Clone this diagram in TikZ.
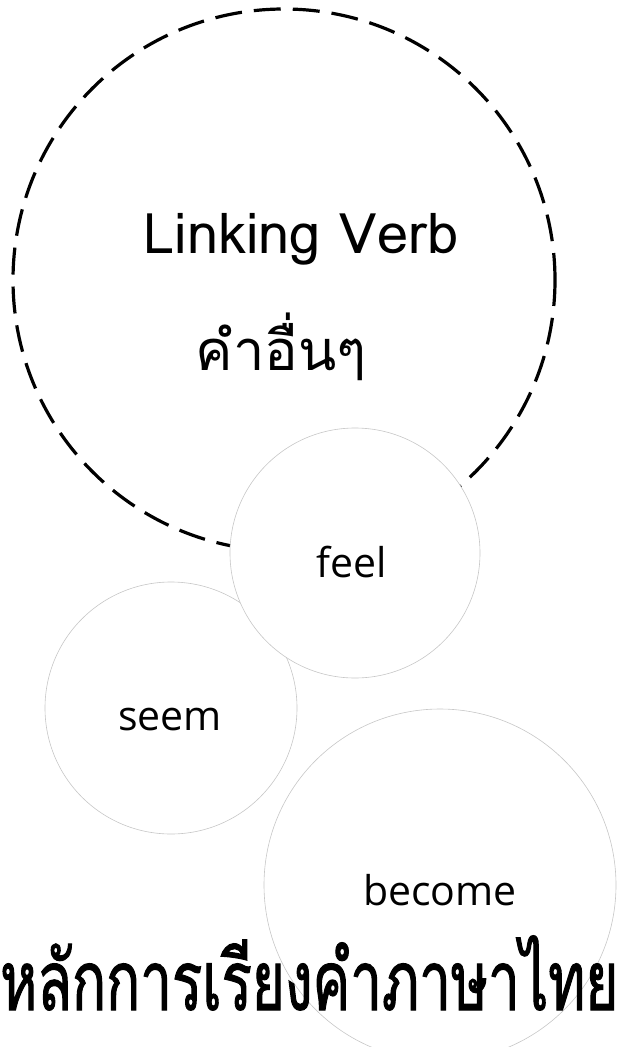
\documentclass[tikz,border=0pt]{standalone}
\usepackage{fontspec}
\setmainfont{Open Sans}
\newfontfamily\thaifont[Script=Thai]{Loma}
\newfontfamily\thaihead[Script=Thai,FakeStretch=0.68,FakeBold=1.2]{Loma}
\usetikzlibrary{positioning}

\begin{document}
\begin{tikzpicture}[x=1pt,y=-1pt]
 \tikzstyle{ring}=[circle, draw, line width=3.2pt, dash pattern=on 27pt off 12pt, inner sep=0pt]
 \tikzstyle{bubble}=[circle, draw=black!22, line width=0.6pt, fill=white, inner sep=0pt]
 \tikzstyle{word}=[font=\fontsize{41}{45}\selectfont, inner sep=0pt]
 \tikzstyle{thaiword}=[font=\thaifont\fontsize{56}{60}\selectfont, inner sep=0pt]
 \tikzstyle{title}=[font=\thaihead\fontsize{83}{90}\selectfont, inner sep=0pt]

 \path[use as bounding box] (0,0) rectangle (618,1047);
 \clip (0,0) rectangle (618,1047);

 % big dashed group
 \node[ring, minimum size=542pt] (group) at (284,280) {};
 \node[thaiword, anchor=base] (linking) at (301,253) {Linking Verb};
 \node[thaiword, anchor=base] (others) at (281,370) {คำอื่นๆ};

 % verbs
 \node[bubble, minimum size=252pt] (seemc) at (171,708) {};
 \node[bubble, minimum size=250pt] (feelc) at (355,553) {};
 \node[bubble, minimum size=352pt] (becomec) at (440,885) {};
 \node[word, anchor=base] (feel) at (352,577) {feel};
 \node[word, anchor=base] (seem) at (170,730) {seem};
 \node[word, anchor=base] (become) at (440,905) {become};

 % heading
 \node[title, anchor=base west] (heading) at (0,1010) {หลักการเรียงคำภาษาไทย};
\end{tikzpicture}
\end{document}
